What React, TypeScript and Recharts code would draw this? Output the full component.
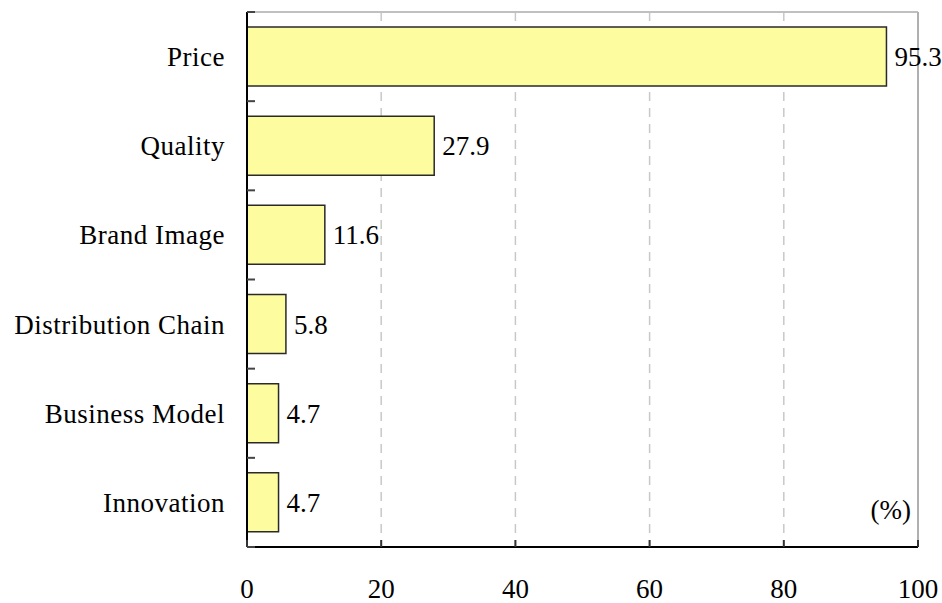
import { BarChart, Bar, XAxis, YAxis, CartesianGrid, ReferenceLine, LabelList } from "recharts";

const categories = ["Price", "Quality", "Brand Image", "Distribution Chain", "Business Model", "Innovation"];
const shares = [95.3, 27.9, 11.6, 5.8, 4.7, 4.7];
const xTicks = [0, 20, 40, 60, 80, 100];

const data = categories.map((name, i) => ({ name, value: shares[i] }));

const FONT = "'Liberation Serif', 'Times New Roman', serif";

// bottom axis tick: short mark pointing up into the plot, number below
function XTick(props: any) {
  const { x, y, payload } = props;
  return (
    <g>
      <line x1={x} x2={x} y1={y} y2={y - 7} stroke="#333" strokeWidth={2} />
      <text x={x} y={y + 51} textAnchor="middle" fontSize={27} fontFamily={FONT} fill="#000">
        {payload.value}
      </text>
    </g>
  );
}

// category tick: label on the left, small inward marks on the band edges
function CatTick(props: any) {
  const { x, y, payload, index } = props;
  const half = payload && payload.offset ? payload.offset : 0;
  return (
    <g>
      {half > 0 && (
        <line x1={x} x2={x + 8} y1={y - half} y2={y - half} stroke="#444" strokeWidth={2} />
      )}
      {half > 0 && index === categories.length - 1 && (
        <line x1={x} x2={x + 8} y1={y + half} y2={y + half} stroke="#444" strokeWidth={2} />
      )}
      <text
        x={x - 22}
        y={y}
        dy="0.35em"
        textAnchor="end"
        fontSize={27}
        fontFamily={FONT}
        letterSpacing={0.5}
        fill="#000"
      >
        {payload.value}
      </text>
    </g>
  );
}

export default function App() {
  return (
    <div style={{ position: "absolute", left: 0, top: 0, background: "#fff" }}>
      <BarChart
        width={942}
        height={603}
        data={data}
        layout="vertical"
        margin={{ top: 12, right: 24, bottom: 0, left: 0 }}
        style={{ fontFamily: FONT }}
      >
        <CartesianGrid horizontal={false} stroke="#c8c8c8" strokeDasharray="9 7" strokeWidth={1.5} />
        <XAxis
          type="number"
          domain={[0, 100]}
          ticks={xTicks}
          height={56}
          axisLine={{ stroke: "#000", strokeWidth: 2 }}
          tickLine={false}
          tickSize={0}
          tickMargin={0}
          tick={<XTick />}
          interval={0}
        />
        <YAxis
          type="category"
          dataKey="name"
          width={247}
          axisLine={{ stroke: "#000", strokeWidth: 2 }}
          tickLine={false}
          tickSize={0}
          tickMargin={0}
          tick={<CatTick />}
          interval={0}
        />
        <ReferenceLine y="Price" position="start" stroke="#c0c0c0" strokeWidth={2} />
        <ReferenceLine
          x={100}
          stroke="#b0b0b0"
          strokeWidth={2}
          label={(props: any) => {
            const vb = props.viewBox || {};
            return (
              <text
                x={vb.x - 7}
                y={vb.y + vb.height - 28}
                textAnchor="end"
                fontSize={27}
                fontFamily={FONT}
                fill="#000"
              >
                (%)
              </text>
            );
          }}
        />
        <Bar
          dataKey="value"
          fill="#fdfd9f"
          stroke="#2a2a2a"
          strokeWidth={1.5}
          barSize={59}
          isAnimationActive={false}
        >
          <LabelList
            dataKey="value"
            position="right"
            offset={8}
            fill="#000"
            fontSize={27}
            fontFamily={FONT}
            formatter={(v: any) => Number(v).toFixed(1)}
          />
        </Bar>
      </BarChart>
    </div>
  );
}
